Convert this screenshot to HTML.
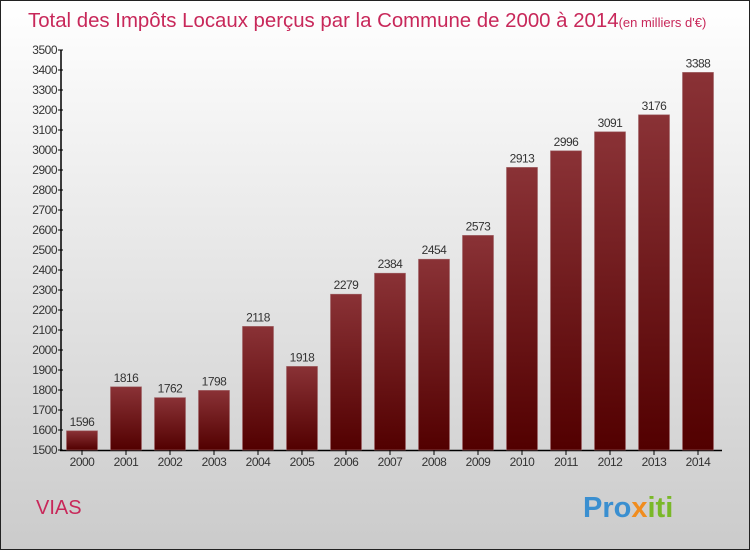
<!DOCTYPE html>
<html><head><meta charset="utf-8"><style>
body{margin:0;}
#wrap{width:750px;height:550px;position:relative;box-sizing:border-box;border:1px solid #222;background:linear-gradient(#ffffff,#cbcbcb);font-family:"Liberation Sans",sans-serif;overflow:hidden}
</style></head><body>
<div id="wrap">
<svg id="svg" width="750" height="550" style="position:absolute;left:-1px;top:-1px">
<defs><linearGradient id="bg" x1="0" y1="0" x2="0" y2="1"><stop offset="0" stop-color="#8a3236"/><stop offset="1" stop-color="#520000"/></linearGradient></defs>
<text x="28" y="27" font-size="20.4" fill="#c8285a">Total des Impôts Locaux perçus par la Commune de 2000 à 2014<tspan font-size="13">(en milliers d'€)</tspan></text>
<text x="36" y="514" font-size="20" fill="#c8285a">VIAS</text>
<text x="583" y="517" font-size="29" font-weight="bold" fill="#3a8fd0">Pro<tspan fill="#f08c1e">x</tspan><tspan fill="#7ab828">iti</tspan></text>
<g id="g"></g>
</svg>
</div>
<script>
const years=["2000","2001","2002","2003","2004","2005","2006","2007","2008","2009","2010","2011","2012","2013","2014"];
const values=[1596,1816,1762,1798,2118,1918,2279,2384,2454,2573,2913,2996,3091,3176,3388];
const yTicks=[1500,1600,1700,1800,1900,2000,2100,2200,2300,2400,2500,2600,2700,2800,2900,3000,3100,3200,3300,3400,3500];
const NS="http://www.w3.org/2000/svg";
const g=document.getElementById('g');
const y=v=>450-(v-1500)*0.2;
const x=i=>82+i*44;
function mk(t,a){const e=document.createElementNS(NS,t);for(const k in a)e.setAttribute(k,a[k]);g.appendChild(e);return e;}
let ax=mk('line',{x1:61,y1:50,x2:61,y2:451,stroke:'#000','stroke-width':1.5});


let bx=mk('line',{x1:60,y1:450.5,x2:722,y2:450.5,stroke:'#000','stroke-width':1.5});


yTicks.forEach(v=>{
 let t=mk('line',{x1:58,y1:y(v),x2:63,y2:y(v),stroke:'#000'});
 
 
 let l=mk('text',{x:57,y:y(v)+4,'font-size':12,'text-anchor':'end',fill:'#333','letter-spacing':'-0.5'});
 l.textContent=v;
 
 
});
years.forEach((yr,i)=>{
 let r=mk('rect',{x:x(i)-15.5,y:y(values[i]),width:31,height:450-y(values[i]),fill:'url(#bg)',stroke:'#a06468','stroke-width':0.6});
 
 
 let v=mk('text',{x:x(i),y:y(values[i])-5,'font-size':12,'text-anchor':'middle',fill:'#333','letter-spacing':'-0.5'});
 v.textContent=values[i];
 
 
 let t=mk('line',{x1:x(i),y1:450,x2:x(i),y2:455,stroke:'#000'});
 
 
 let l=mk('text',{x:x(i),y:466,'font-size':12,'text-anchor':'middle',fill:'#333','letter-spacing':'-0.5'});
 l.textContent=yr;
 
 
});
</script>
</body></html>
